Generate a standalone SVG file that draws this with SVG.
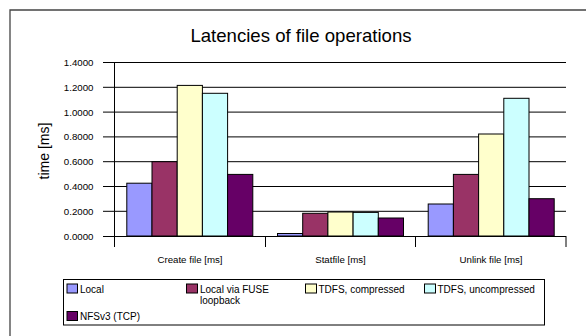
<svg xmlns="http://www.w3.org/2000/svg" width="586" height="336" viewBox="0 0 586 336">
<style>
text{font-family:"Liberation Sans",Arial,sans-serif;fill:#000}
.grid{stroke:#000;stroke-width:1}
.ax{stroke:#000;stroke-width:1;fill:none}
.yl{font-size:9.7px;text-anchor:end}
.cl{font-size:9.7px;text-anchor:middle}
.lg{font-size:10px}
.bar{stroke:#000;stroke-width:1}
.s1{fill:#9999FF}.s2{fill:#993366}.s3{fill:#FFFFCC}.s4{fill:#CCFFFF}.s5{fill:#660066}
</style>
<rect x="0" y="0" width="586" height="336" fill="#fff"/>
<path d="M10,336 V10 H586" fill="none" stroke="#444" stroke-width="1.3"/>
<text x="301" y="41.5" font-size="18.6" text-anchor="middle">Latencies of file operations</text>
<g id="axes">
<g class="grid">
<line x1="103" y1="62.5" x2="566" y2="62.5"/>
<line x1="103" y1="87.3" x2="566" y2="87.3"/>
<line x1="103" y1="112.1" x2="566" y2="112.1"/>
<line x1="103" y1="136.9" x2="566" y2="136.9"/>
<line x1="103" y1="161.7" x2="566" y2="161.7"/>
<line x1="103" y1="186.5" x2="566" y2="186.5"/>
<line x1="103" y1="211.3" x2="566" y2="211.3"/>
</g>
<line class="ax" x1="114.5" y1="62" x2="114.5" y2="236"/>
<g class="yl">
<text x="93.5" y="66">1.4000</text>
<text x="93.5" y="90.8">1.2000</text>
<text x="93.5" y="115.6">1.0000</text>
<text x="93.5" y="140.4">0.8000</text>
<text x="93.5" y="165.2">0.6000</text>
<text x="93.5" y="190">0.4000</text>
<text x="93.5" y="214.8">0.2000</text>
<text x="93.5" y="239.6">0.0000</text>
</g>
<text transform="translate(49,151) rotate(-90)" font-size="14" text-anchor="middle">time [ms]</text>
</g>
<g id="bars-create">
<rect class="bar s1" x="126.8" y="183.2" width="25.2" height="52.8"/>
<rect class="bar s2" x="152" y="161.7" width="25.2" height="74.3"/>
<rect class="bar s3" x="177.2" y="85.4" width="25.2" height="150.6"/>
<rect class="bar s4" x="202.4" y="93.3" width="25.2" height="142.7"/>
<rect class="bar s5" x="227.6" y="174.4" width="25.2" height="61.6"/>
</g>
<g id="bars-stat">
<rect class="bar s1" x="277.5" y="233.5" width="25.2" height="2.5"/>
<rect class="bar s2" x="302.7" y="213.3" width="25.2" height="22.7"/>
<rect class="bar s3" x="327.9" y="212" width="25.2" height="24"/>
<rect class="bar s4" x="353.1" y="212.4" width="25.2" height="23.6"/>
<rect class="bar s5" x="378.3" y="218" width="25.2" height="18"/>
</g>
<g id="bars-unlink">
<rect class="bar s1" x="428.2" y="204" width="25.2" height="32"/>
<rect class="bar s2" x="453.4" y="174.4" width="25.2" height="61.6"/>
<rect class="bar s3" x="478.6" y="134" width="25.2" height="102"/>
<rect class="bar s4" x="503.8" y="98.3" width="25.2" height="137.7"/>
<rect class="bar s5" x="529" y="198.7" width="25.2" height="37.3"/>
</g>
<g id="xaxis">
<line class="ax" x1="103" y1="236.5" x2="566" y2="236.5"/>
<line class="ax" x1="114.5" y1="236" x2="114.5" y2="247"/>
<line class="ax" x1="265.5" y1="236" x2="265.5" y2="247"/>
<line class="ax" x1="415.5" y1="236" x2="415.5" y2="247"/>
<line class="ax" x1="566" y1="236" x2="566" y2="247"/>
<text class="cl" x="190" y="263">Create file [ms]</text>
<text class="cl" x="340.5" y="263">Statfile [ms]</text>
<text class="cl" x="491" y="263">Unlink file [ms]</text>
</g>
<g id="legend">
<rect x="63.5" y="279.5" width="481" height="45.5" fill="#fff" stroke="#000" stroke-width="1"/>
<rect class="bar s1" x="67" y="284" width="10.5" height="9"/>
<text class="lg" x="80" y="293">Local</text>
<rect class="bar s2" x="186.5" y="284" width="11" height="9"/>
<text class="lg" x="200" y="293">Local via FUSE</text>
<text class="lg" x="200" y="304">loopback</text>
<rect class="bar s3" x="305.5" y="284" width="11" height="9"/>
<text class="lg" x="318.5" y="293">TDFS, compressed</text>
<rect class="bar s4" x="424.5" y="284" width="11" height="9"/>
<text class="lg" x="437.5" y="293">TDFS, uncompressed</text>
<rect class="bar s5" x="67" y="311.5" width="10.5" height="9"/>
<text class="lg" x="80" y="320">NFSv3 (TCP)</text>
</g>
</svg>
